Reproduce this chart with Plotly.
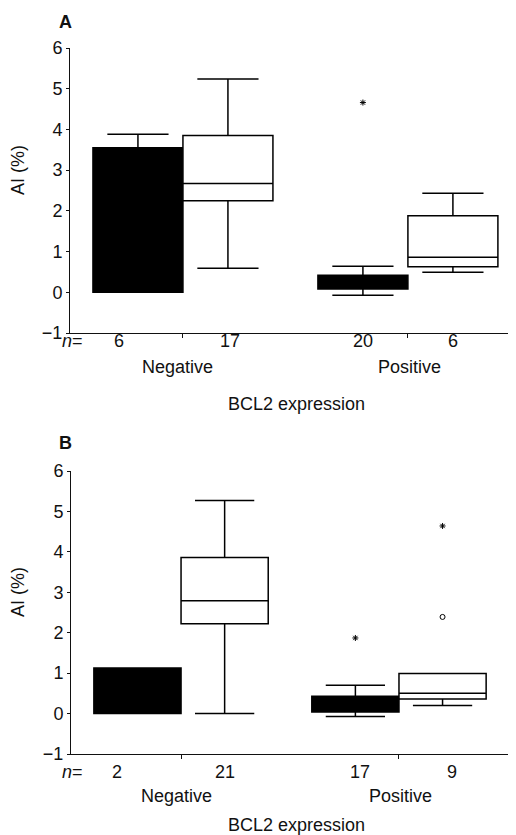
import plotly.graph_objects as go

# ---------------- data ----------------
categories = ["Negative", "Positive"]
y_ticks = [-1, 0, 1, 2, 3, 4, 5, 6]

# Panel A (black = first group, white = second group)
a_black_q1 = [0.00, 0.08]
a_black_median = [1.80, 0.22]
a_black_q3 = [3.55, 0.42]
a_black_low = [0.00, -0.07]
a_black_high = [3.88, 0.64]
a_black_n = [6, 20]
a_white_q1 = [2.25, 0.63]
a_white_median = [2.67, 0.86]
a_white_q3 = [3.85, 1.88]
a_white_low = [0.59, 0.49]
a_white_high = [5.24, 2.43]
a_white_n = [17, 6]
a_black_extremes = [[], [4.66]]
a_white_extremes = [[], []]
a_white_outliers = [[], []]

# Panel B
b_black_q1 = [0.00, 0.04]
b_black_median = [0.56, 0.20]
b_black_q3 = [1.13, 0.43]
b_black_low = [0.00, -0.07]
b_black_high = [1.13, 0.70]
b_black_n = [2, 17]
b_white_q1 = [2.22, 0.36]
b_white_median = [2.79, 0.50]
b_white_q3 = [3.86, 0.99]
b_white_low = [0.00, 0.20]
b_white_high = [5.27, 0.99]
b_white_n = [21, 9]
b_black_extremes = [[], [1.87]]
b_white_extremes = [[], [4.64]]
b_white_outliers = [[], [2.39]]

# ---------------- style ----------------
PAGE_MARGIN = 8            # default browser body margin
FW, FH = 516 - PAGE_MARGIN, 835 - PAGE_MARGIN
FONT = "Liberation Sans, Arial, sans-serif"
INK = "#111111"
OFFSET = 0.2      # half-group offset in category units
BOXW = 0.4
n_shift_A = [-19, 2, 0, 0]
n_shift_B = [-20, 0, 5, 9]


def px_x(p):
    return (p - PAGE_MARGIN) / FW


def px_y(p):
    return 1 - (p - PAGE_MARGIN) / FH


fig = go.Figure()


def add_panel(xa, ya, black, white, extremes, outliers):
    idx = list(range(len(categories)))
    for stats, color, sign in ((black, "black", -1), (white, "white", 1)):
        q1, med, q3, lo, hi = stats
        fig.add_trace(go.Box(
            x=[i + sign * OFFSET for i in idx], q1=q1, median=med, q3=q3,
            lowerfence=lo, upperfence=hi, width=BOXW, whiskerwidth=0.68,
            fillcolor=color, line=dict(color="black", width=1.5),
            boxpoints=False, xaxis=xa, yaxis=ya, showlegend=False,
            hoverinfo="skip"))
    for (vals, sign), sym, size in zip(extremes + outliers,
                                       ["asterisk-open"] * len(extremes) + ["circle-open"] * len(outliers),
                                       [5] * len(extremes) + [5] * len(outliers)):
        xs, ys = [], []
        for i, lst in enumerate(vals):
            for v in lst:
                xs.append(i + sign * OFFSET)
                ys.append(v)
        if xs:
            fig.add_trace(go.Scatter(
                x=xs, y=ys, mode="markers", xaxis=xa, yaxis=ya,
                marker=dict(symbol=sym, size=size, color="black",
                            line=dict(width=1, color="black")),
                showlegend=False, hoverinfo="skip"))


add_panel("x", "y",
          (a_black_q1, a_black_median, a_black_q3, a_black_low, a_black_high),
          (a_white_q1, a_white_median, a_white_q3, a_white_low, a_white_high),
          [(a_black_extremes, -1), (a_white_extremes, 1)],
          [(a_white_outliers, 1)])
add_panel("x2", "y2",
          (b_black_q1, b_black_median, b_black_q3, b_black_low, b_black_high),
          (b_white_q1, b_white_median, b_white_q3, b_white_low, b_white_high),
          [(b_black_extremes, -1), (b_white_extremes, 1)],
          [(b_white_outliers, 1)])

xcommon = dict(showline=True, linecolor=INK, linewidth=1, ticks="outside",
               tickvals=[0, 1], ticklen=4, tickcolor=INK, showticklabels=False,
               showgrid=False, zeroline=False, automargin=False)
ycommon = dict(range=[-1, 6], tickvals=y_ticks, showline=True, linecolor=INK,
               linewidth=1, ticks="outside", ticklen=3, tickcolor=INK,
               tickfont=dict(family=FONT, size=18, color=INK),
               showgrid=False, zeroline=False, automargin=False)

fig.update_layout(
    width=FW, height=FH, margin=dict(l=0, r=0, t=0, b=0, autoexpand=False),
    paper_bgcolor="white", plot_bgcolor="white", showlegend=False,
    xaxis=dict(domain=[px_x(70), px_x(515)], range=[-0.502, 1.476], anchor="y", **xcommon),
    yaxis=dict(domain=[px_y(333), px_y(48)], anchor="x", **ycommon),
    xaxis2=dict(domain=[px_x(71), 1.0], range=[-0.505, 1.537], anchor="y2", **xcommon),
    yaxis2=dict(domain=[px_y(754), px_y(471)], anchor="x2", **ycommon),
)

ann = []
f18 = dict(family=FONT, size=18, color=INK)


def panel_text(label, xa, y_lab, y_n, y_cat, y_title, y_axis_title, n_lists, shifts):
    ann.append(dict(text="<b>%s</b>" % label, xref="paper", yref="paper",
                    x=px_x(65), y=px_y(y_lab), xanchor="center", yanchor="middle",
                    showarrow=False, font=dict(family=FONT, size=18, color=INK)))
    ann.append(dict(text="AI (%)", xref="paper", yref="paper", textangle=-90,
                    x=px_x(18), y=px_y(y_axis_title), xanchor="center", yanchor="middle",
                    showarrow=False, font=f18))
    ann.append(dict(text="<i>n</i>=", xref="paper", yref="paper",
                    x=px_x(72), y=px_y(y_n), xanchor="center", yanchor="middle",
                    showarrow=False, font=f18))
    k = 0
    for i in range(len(categories)):
        for sign, ns in ((-1, n_lists[0]), (1, n_lists[1])):
            ann.append(dict(text=str(ns[i]), xref=xa, yref="paper",
                            x=i + sign * OFFSET, y=px_y(y_n), xshift=shifts[k],
                            xanchor="center", yanchor="middle",
                            showarrow=False, font=f18))
            k += 1
        ann.append(dict(text=categories[i], xref=xa, yref="paper",
                        x=i, y=px_y(y_cat), xshift=-5 if i == 0 else 2,
                        xanchor="center", yanchor="middle",
                        showarrow=False, font=f18))
    ann.append(dict(text="BCL2 expression", xref="paper", yref="paper",
                    x=px_x(296), y=px_y(y_title), xanchor="center", yanchor="middle",
                    showarrow=False, font=f18))


panel_text("A", "x", 22, 341, 367, 404, 170, (a_black_n, a_white_n), n_shift_A)
panel_text("B", "x2", 443, 772, 796, 825, 592, (b_black_n, b_white_n), n_shift_B)

fig.update_layout(annotations=ann)
fig.write_html("out.html")
